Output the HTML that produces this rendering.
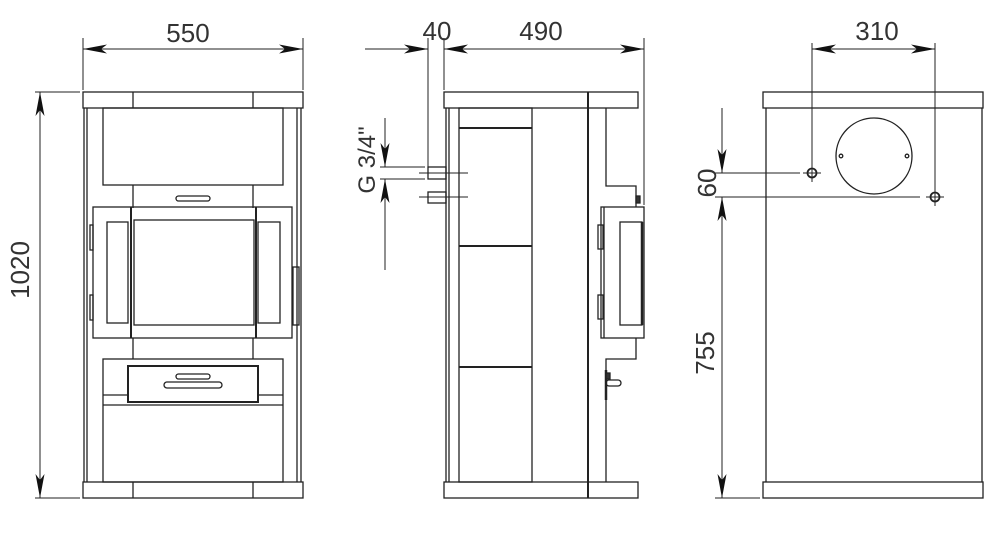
<!DOCTYPE html>
<html><head><meta charset="utf-8"><style>
html,body{margin:0;padding:0;background:#fff;}
svg{display:block}
text{font-family:"Liberation Sans",sans-serif;font-size:26px;fill:#333;}
</style></head><body>
<svg width="1000" height="540" viewBox="0 0 1000 540" xmlns="http://www.w3.org/2000/svg">
<defs>
<marker id="a" viewBox="0 0 24 9" refX="24" refY="4.5" markerWidth="24" markerHeight="9" markerUnits="userSpaceOnUse" orient="auto-start-reverse"><path d="M0,0 L24,4.5 L0,9 L6,4.5 Z" fill="#111"/></marker>
</defs>
<g fill="none" stroke="#222" stroke-width="1.3">
<!-- FRONT VIEW -->
<rect x="83" y="92" width="220" height="16"/>
<line x1="133" y1="92" x2="133" y2="108"/><line x1="253" y1="92" x2="253" y2="108"/>
<line x1="84" y1="108" x2="84" y2="482"/><line x1="87" y1="108" x2="87" y2="482"/>
<line x1="301" y1="108" x2="301" y2="482"/><line x1="297" y1="108" x2="297" y2="482"/>
<rect x="103" y="108" width="180" height="77"/>
<line x1="133" y1="185" x2="133" y2="208"/><line x1="253" y1="185" x2="253" y2="208"/>
<rect x="176" y="196" width="34" height="5" rx="2.5"/>
<rect x="93" y="207" width="199" height="131"/>
<line x1="131" y1="207" x2="131" y2="338" stroke-width="2"/><line x1="256" y1="207" x2="256" y2="338" stroke-width="2"/>
<rect x="134" y="220" width="120" height="105"/>
<rect x="107" y="222" width="21" height="101"/>
<rect x="258" y="222" width="22" height="101"/>
<rect x="90" y="225" width="3" height="25"/><rect x="90" y="295" width="3" height="25"/>
<rect x="293" y="267" width="6" height="58"/>
<line x1="133" y1="338" x2="133" y2="359"/><line x1="253" y1="338" x2="253" y2="359"/>
<rect x="103" y="359" width="180" height="123"/>
<line x1="103" y1="395" x2="283" y2="395"/><line x1="103" y1="405" x2="283" y2="405"/>
<rect x="128" y="366" width="130" height="36" fill="#fff" stroke-width="2"/>
<rect x="176" y="374" width="34" height="5" rx="2.5"/>
<rect x="164" y="382" width="58" height="6" rx="3"/>
<rect x="83" y="482" width="220" height="16"/>
<line x1="133" y1="482" x2="133" y2="498"/><line x1="253" y1="482" x2="253" y2="498"/>
<!-- front dims -->
<line x1="83" y1="38" x2="83" y2="90" stroke-width="1"/><line x1="303" y1="38" x2="303" y2="90" stroke-width="1"/>
<line x1="83" y1="49" x2="303" y2="49" stroke-width="1" marker-start="url(#a)" marker-end="url(#a)"/>
<line x1="35" y1="92" x2="80" y2="92" stroke-width="1"/><line x1="35" y1="498" x2="80" y2="498" stroke-width="1"/>
<line x1="40" y1="92" x2="40" y2="498" stroke-width="1" marker-start="url(#a)" marker-end="url(#a)"/>

<!-- SIDE VIEW -->
<rect x="444" y="92" width="194" height="16"/>
<rect x="444" y="482" width="194" height="16"/>
<line x1="588" y1="92" x2="588" y2="498" stroke-width="2"/>
<line x1="446" y1="108" x2="446" y2="482"/><line x1="449" y1="108" x2="449" y2="482"/>
<rect x="459" y="108" width="73" height="374"/>
<line x1="459" y1="128" x2="532" y2="128" stroke-width="2"/>
<line x1="459" y1="246" x2="532" y2="246" stroke-width="2"/>
<line x1="459" y1="367" x2="532" y2="367" stroke-width="2"/>
<polyline points="606,108 606,186 636,186 636,207"/>
<polyline points="636,338 636,359 606,359 606,482"/>
<rect x="636" y="196" width="4" height="7" fill="#333"/>
<rect x="601" y="207" width="43" height="131"/>
<line x1="604" y1="207" x2="604" y2="338"/>
<rect x="620" y="222" width="22" height="103"/>
<line x1="642" y1="222" x2="642" y2="325" stroke-width="2.5"/>
<rect x="598" y="225" width="5" height="24"/><rect x="598" y="295" width="5" height="24"/>
<line x1="606" y1="370" x2="606" y2="400" stroke-width="2.5"/>
<rect x="606" y="373" width="4" height="6" fill="#333"/>
<rect x="606" y="380" width="15" height="6" rx="3"/>
<!-- pipes -->
<rect x="428" y="167" width="18" height="12"/>
<rect x="428" y="192" width="18" height="11"/>
<line x1="419" y1="173" x2="468" y2="173" stroke-width="1"/>
<line x1="419" y1="197" x2="468" y2="197" stroke-width="1"/>
<!-- side dims -->
<line x1="428" y1="38" x2="428" y2="167" stroke-width="1"/>
<line x1="444" y1="38" x2="444" y2="90" stroke-width="1"/>
<line x1="644" y1="38" x2="644" y2="205" stroke-width="1"/>
<line x1="365" y1="49" x2="428" y2="49" stroke-width="1" marker-end="url(#a)"/>
<line x1="444" y1="49" x2="644" y2="49" stroke-width="1" marker-start="url(#a)" marker-end="url(#a)"/>
<line x1="380" y1="167" x2="425" y2="167" stroke-width="1"/>
<line x1="380" y1="179" x2="425" y2="179" stroke-width="1"/>
<line x1="385" y1="118" x2="385" y2="167" stroke-width="1" marker-end="url(#a)"/>
<line x1="385" y1="270" x2="385" y2="179" stroke-width="1" marker-end="url(#a)"/>

<!-- BACK VIEW -->
<rect x="763" y="92" width="220" height="16"/>
<line x1="766" y1="108" x2="766" y2="482"/><line x1="982" y1="108" x2="982" y2="482"/>
<rect x="763" y="482" width="220" height="16"/>
<circle cx="874" cy="156" r="38"/>
<circle cx="841" cy="156" r="1.8"/><circle cx="907" cy="156" r="1.8"/>
<circle cx="812" cy="173" r="4.5" stroke-width="1.8"/>
<line x1="803" y1="173" x2="821" y2="173" stroke-width="1"/><line x1="812" y1="164" x2="812" y2="182" stroke-width="1"/>
<circle cx="935" cy="197" r="4.5" stroke-width="1.8"/>
<line x1="926" y1="197" x2="944" y2="197" stroke-width="1"/><line x1="935" y1="188" x2="935" y2="206" stroke-width="1"/>
<line x1="812" y1="43" x2="812" y2="165" stroke-width="1"/>
<line x1="935" y1="43" x2="935" y2="189" stroke-width="1"/>
<line x1="812" y1="49" x2="935" y2="49" stroke-width="1" marker-start="url(#a)" marker-end="url(#a)"/>
<line x1="715" y1="173" x2="800" y2="173" stroke-width="1"/>
<line x1="715" y1="197" x2="920" y2="197" stroke-width="1"/>
<line x1="715" y1="498" x2="760" y2="498" stroke-width="1"/>
<line x1="722" y1="108" x2="722" y2="173" stroke-width="1" marker-end="url(#a)"/>
<line x1="722" y1="197" x2="722" y2="498" stroke-width="1" marker-start="url(#a)" marker-end="url(#a)"/>
</g>
<text x="188" y="42" text-anchor="middle">550</text>
<text x="437" y="40" text-anchor="middle">40</text>
<text x="541" y="40" text-anchor="middle">490</text>
<text x="877" y="40" text-anchor="middle">310</text>
<text transform="translate(29,270) rotate(-90)" text-anchor="middle">1020</text>
<text transform="translate(375,160) rotate(-90)" text-anchor="middle" style="font-size:24px">G 3/4"</text>
<text transform="translate(716,183) rotate(-90)" text-anchor="middle">60</text>
<text transform="translate(714,353) rotate(-90)" text-anchor="middle">755</text>
</svg>
</body></html>
